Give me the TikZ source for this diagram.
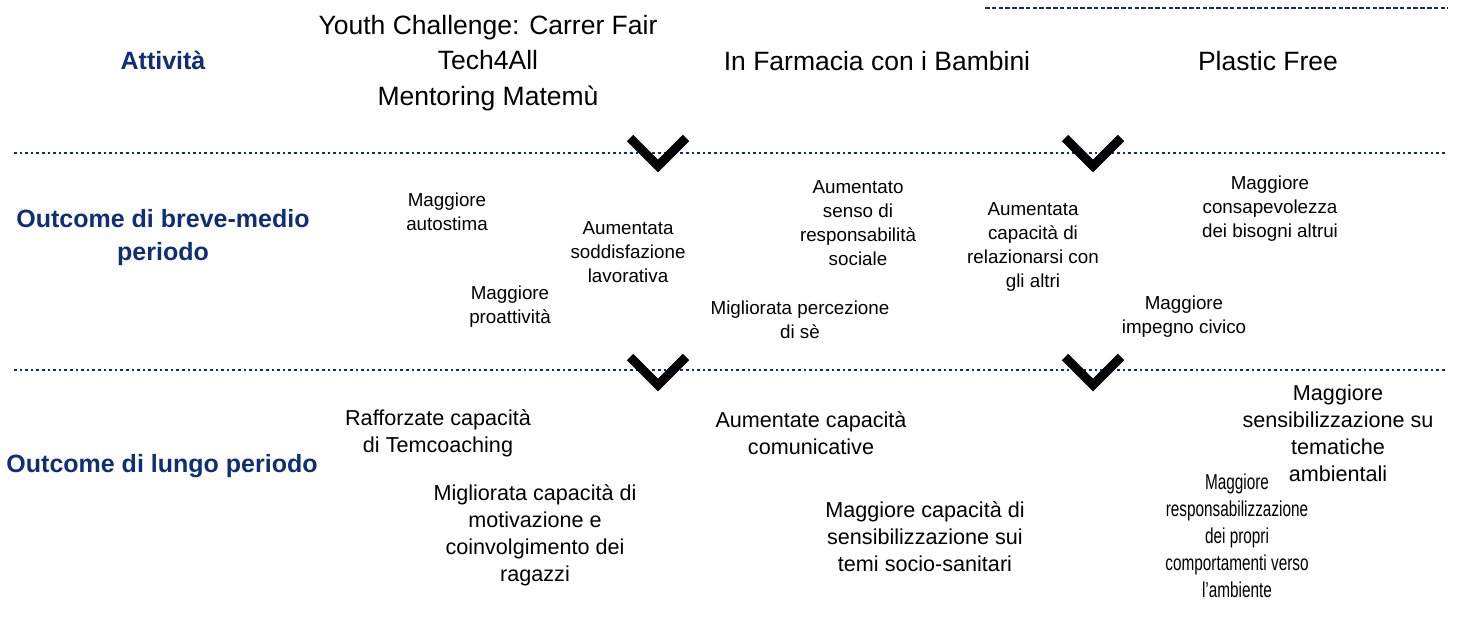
\documentclass[tikz,border=0pt]{standalone}
\usepackage{fontspec}
\setmainfont{Liberation Sans}
\newfontfamily\narrowfont[FakeStretch=0.71]{Liberation Sans}
\definecolor{navy}{RGB}{14,46,120}
\tikzset{
  head/.style={font=\fontsize{25}{33}\selectfont\bfseries, text=navy, align=center, inner sep=0pt},
  act/.style={font=\fontsize{26.5}{35.5}\selectfont, align=center, inner sep=0pt},
  mid/.style={font=\fontsize{18.8}{24}\selectfont, align=center, inner sep=0pt},
  low/.style={font=\fontsize{21.6}{27}\selectfont, align=center, inner sep=0pt},
  lownarrow/.style={font=\narrowfont\fontsize{21.6}{27}\selectfont, align=center, inner sep=0pt},
  sep/.style={navy, line width=2.2pt, dash pattern=on 2.6pt off 3pt},
  chev/.style={line width=9pt, miter limit=10}
}
\begin{document}
\begin{tikzpicture}[x=1pt,y=-1pt]
\useasboundingbox (0,0) rectangle (1457,644);
% top-right dashed rule
\coordinate (d1) at (985,8);
\coordinate (d2) at (1448,8);
\draw[navy, line width=1.1pt, dash pattern=on 4.5pt off 2.3pt] (d1) -- (d2);
% separators
\coordinate (s1a) at (14,153);
\coordinate (s1b) at (1447,153);
\coordinate (s2a) at (14,370);
\coordinate (s2b) at (1447,370);
\draw[sep] (s1a) -- (s1b);
\draw[sep] (s2a) -- (s2b);
% row labels
\node[head] (lAct) at (163,60) {Attività};
\node[head] (lMid) at (163,238) {Outcome di breve-medio\\periodo};
\node[head] (lLow) at (162,466) {Outcome di lungo periodo};
% activities
\node[act] (a1) at (488,63) {Youth Challenge: Carrer Fair\\Tech4All\\Mentoring Matemù};
\node[act] (a2) at (877,61) {In Farmacia con i Bambini};
\node[act] (a3) at (1268,61) {Plastic Free};
% chevrons
\draw[chev] (630,138) -- (658,166) -- (686,138);
\draw[chev] (1065,138) -- (1093,166) -- (1121,138);
\draw[chev] (630,357) -- (658,385) -- (686,357);
\draw[chev] (1065,357) -- (1093,385) -- (1121,357);
% short-medium outcomes
\node[mid] (m1) at (447,212) {Maggiore\\autostima};
\node[mid] (m2) at (628,252) {Aumentata\\soddisfazione\\lavorativa};
\node[mid] (m3) at (510,307) {Maggiore\\proattività};
\node[mid] (m4) at (858,223) {Aumentato\\senso di\\responsabilità\\sociale};
\node[mid] (m5) at (800,320) {Migliorata percezione\\di sè};
\node[mid] (m6) at (1033,247) {Aumentata\\capacità di\\relazionarsi con\\gli altri};
\node[mid] (m7) at (1270,209) {Maggiore\\consapevolezza\\dei bisogni altrui};
\node[mid] (m8) at (1184,317) {Maggiore\\impegno civico};
% long-term outcomes
\node[low] (o1) at (438,433) {Rafforzate capacità\\di Temcoaching};
\node[low] (o2) at (535,535) {Migliorata capacità di\\motivazione e\\coinvolgimento dei\\ragazzi};
\node[low] (o3) at (811,433) {Aumentate capacità\\comunicative};
\node[low] (o4) at (925,537) {Maggiore capacità di\\sensibilizzazione sui\\temi socio-sanitari};
\node[lownarrow] (o5) at (1237,536) {Maggiore\\responsabilizzazione\\dei propri\\comportamenti verso\\l’ambiente};
\node[low] (o6) at (1338,433) {Maggiore\\sensibilizzazione su\\tematiche\\ambientali};
\end{tikzpicture}
\end{document}
